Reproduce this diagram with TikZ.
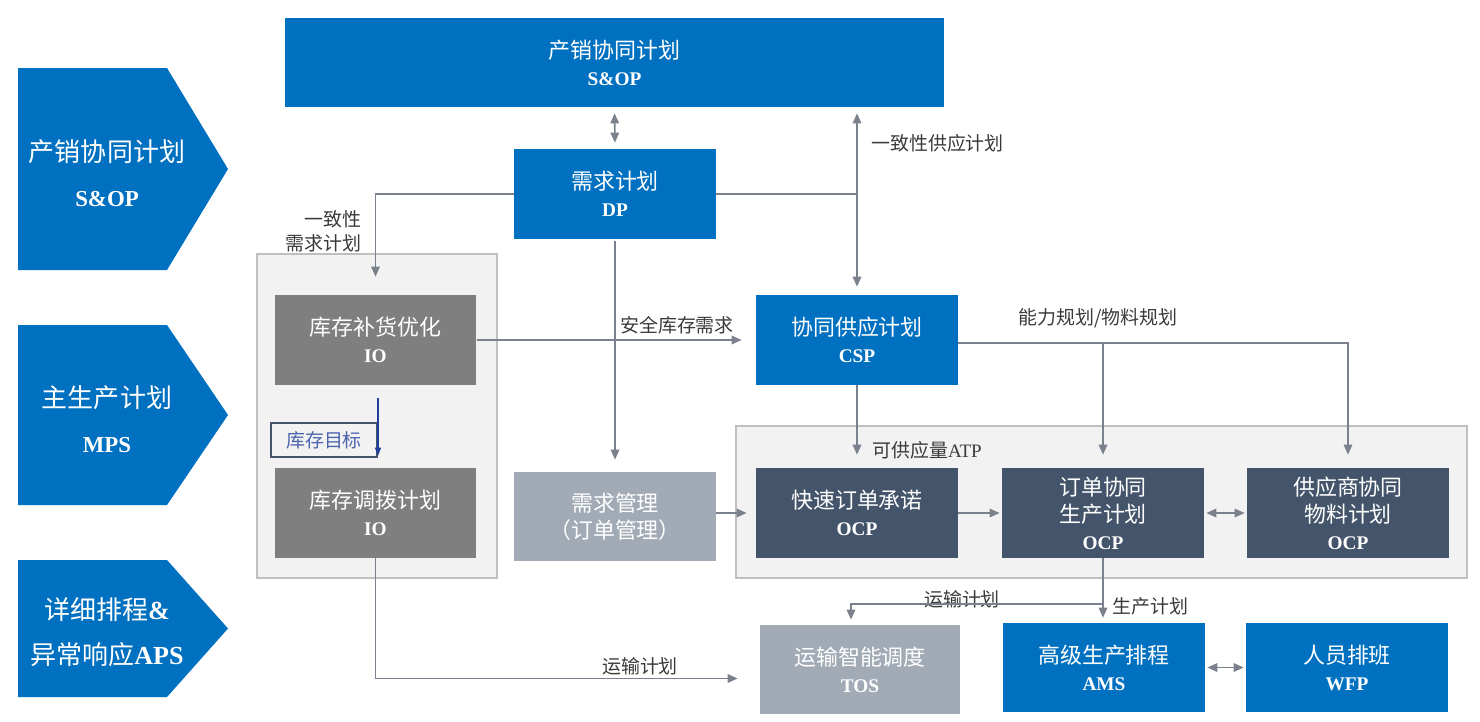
\documentclass[tikz,border=0pt]{standalone}
\usepackage{fontspec}
\setmainfont{Liberation Serif}
\newfontfamily\zh{Noto Sans CJK SC}
\usetikzlibrary{arrows.meta,positioning,calc}
\definecolor{Blue}{HTML}{0070C0}
\definecolor{Slate}{HTML}{44546A}
\definecolor{Stone}{HTML}{7F7F7F}
\definecolor{Mist}{HTML}{A2AAB5}
\definecolor{Panel}{HTML}{F2F2F2}
\definecolor{Rim}{HTML}{BFBFBF}
\definecolor{Wire}{HTML}{7A808C}
\definecolor{Navy}{HTML}{1F3D99}
\definecolor{Ink}{HTML}{3A3A3A}
\newcommand{\lat}[1]{{\rmfamily\bfseries\fontsize{11}{15.4}\selectfont #1}}
\newcommand{\stage}[4]{
  \fill[Blue] (18,#2) -- (167,#2) -- (228,{(#2+#3)/2}) -- (167,#3) -- (18,#3) -- cycle;
  \node[stagetext] (#1) at (107,{(#2+#3)/2+4}) {#4};
}

\begin{document}
\begin{tikzpicture}[x=0.02cm, y=-0.02cm,
    box/.style={minimum width=4.04cm, minimum height=1.8cm, inner sep=0pt, align=center, text=white, font=\zh\fontsize{12.5}{15.4}\selectfont},
    bluebox/.style={box, fill=Blue},
    slatebox/.style={box, fill=Slate},
    stonebox/.style={box, fill=Stone},
    mistbox/.style={box, fill=Mist},
    panel/.style={draw=Rim, fill=Panel, line width=1pt, inner sep=0pt},
    stagetext/.style={align=center, text=white, font=\zh\fontsize{14.8}{25.6}\selectfont},
    lbl/.style={text=Ink, inner sep=1pt, font=\zh\fontsize{10.8}{13.5}\selectfont},
    wire/.style={draw=Wire, line width=0.9pt},
    arr/.style={wire, -{Triangle[length=0.2cm,width=0.17cm]}},
    dual/.style={wire, {Triangle[length=0.2cm,width=0.17cm]}-{Triangle[length=0.2cm,width=0.17cm]}}
  ]
    \useasboundingbox (0,0) rectangle (1480,721);

    % stages on the left
    \stage{stSop}{68}{270}{产销协同计划\\{\fontsize{13}{25.6}\selectfont\rmfamily\bfseries S\&OP}}
    \stage{stMps}{325}{505}{主生产计划\\{\fontsize{13}{25.6}\selectfont\rmfamily\bfseries MPS}}
    \stage{stAps}{560}{697}{详细排程{\rmfamily\bfseries\&}\\异常响应{\rmfamily\bfseries APS}}

    % panels
    \node[panel, minimum width=4.8cm, minimum height=6.48cm] (stock) at (377,416) {};
    \node[panel, minimum width=14.62cm, minimum height=3.04cm] (order) at (1101.5,502) {};

    % boxes
    \node[bluebox, minimum width=13.18cm, minimum height=1.78cm] (sop) at (614.5,62.5) {产销协同计划\\\lat{S\&OP}};
    \node[bluebox] (dp) at (615,194) {需求计划\\\lat{DP}};
    \node[stonebox] (io1) at (375.5,340) {库存补货优化\\\lat{IO}};
    \node[stonebox] (io2) at (375.5,513) {库存调拨计划\\\lat{IO}};
    \node[bluebox] (csp) at (857,340) {协同供应计划\\\lat{CSP}};
    \node[mistbox, minimum height=1.78cm] (dm) at (615,516.5) {需求管理\\（订单管理）};
    \node[slatebox] (ocp1) at (857,513) {快速订单承诺\\\lat{OCP}};
    \node[slatebox] (ocp2) at (1103,513) {订单协同\\生产计划\\\lat{OCP}};
    \node[slatebox] (sup) at (1348,513) {供应商协同\\物料计划\\\lat{OCP}};
    \node[mistbox, minimum width=4cm, minimum height=1.78cm] (tos) at (860,669.5) {运输智能调度\\\lat{TOS}};
    \node[bluebox, minimum height=1.78cm] (ams) at (1104,667.5) {高级生产排程\\\lat{AMS}};
    \node[bluebox, minimum height=1.78cm] (wfp) at (1347,667.5) {人员排班\\\lat{WFP}};
    \node[draw=Slate, fill=Panel, line width=0.8pt, minimum width=2.12cm, minimum height=0.68cm, inner sep=0pt, text=Navy!80, font=\zh\fontsize{10.8}{13}\selectfont] (target) at (324,440) {库存目标};

    % labels
    \node[lbl, anchor=west] (lSupply) at (869,143) {一致性供应计划};
    \node[lbl, anchor=east, align=right] (lDemand) at (364,231) {一致性\\需求计划};
    \node[lbl] (lSafety) at (677,325) {安全库存需求};
    \node[lbl] (lCap) at (1098,318) {能力规划/物料规划};
    \node[lbl, anchor=west] (lAtp) at (870,450) {可供应量{\rmfamily ATP}};
    \node[lbl] (lShip) at (962,599) {运输计划};
    \node[lbl, anchor=west] (lMake) at (1110,606) {生产计划};
    \node[lbl] (lShip2) at (640,666) {运输计划};

    % connectors
    \draw[dual, shorten <=0.12cm, shorten >=0.12cm] (sop.south) -- (dp.north);
    \draw[dual, shorten <=0.12cm, shorten >=0.16cm] (sop.south -| csp.north) -- (csp.north);
    \draw[wire] (dp.east) -- (dp.east -| csp.north);
    \draw[arr, shorten >=0.36cm] (dp.west) -| (io1.north);
    \draw[arr, shorten >=0.28cm] (io1.east) -- (csp.west);
    \draw[arr, shorten <=0.04cm, shorten >=0.24cm] (dp.south) -- (dm.north);
    \draw[arr, shorten >=0.26cm] ([yshift=-0.06cm]csp.east) -| (ocp2.north);
    \draw[arr, shorten >=0.26cm] ([yshift=-0.06cm]csp.east) -| (sup.north);
    \draw[arr, shorten >=0.26cm] (csp.south) -- (ocp1.north);
    \draw[arr, shorten >=0.04cm] (ocp1.east) -- (ocp2.west);
    \draw[dual, shorten <=0.04cm, shorten >=0.04cm] (ocp2.east) -- (sup.west);
    \draw[arr, shorten >=0.18cm] (dm.east |- ocp1.west) -- (ocp1.west);
    \draw[arr, shorten >=0.44cm] (io2.south) |- ([yshift=-0.18cm]tos.west);
    \coordinate (fork) at (ocp2.south |- 0,604);
    \draw[wire] (ocp2.south) -- (fork);
    \draw[arr, shorten >=0.1cm] (fork) -| ([xshift=-0.18cm]tos.north);
    \draw[arr, shorten >=0.1cm] (fork) -- (fork |- ams.north);
    \draw[dual, shorten <=0.04cm, shorten >=0.04cm] (ams.east) -- (wfp.west);
    \draw[Navy, line width=0.7pt, -{Triangle[length=0.16cm,width=0.12cm]}, shorten <=0.26cm, shorten >=0.24cm] ([xshift=0.05cm]io1.south) -- ([xshift=0.05cm]io2.north);
  \end{tikzpicture}
\end{document}
